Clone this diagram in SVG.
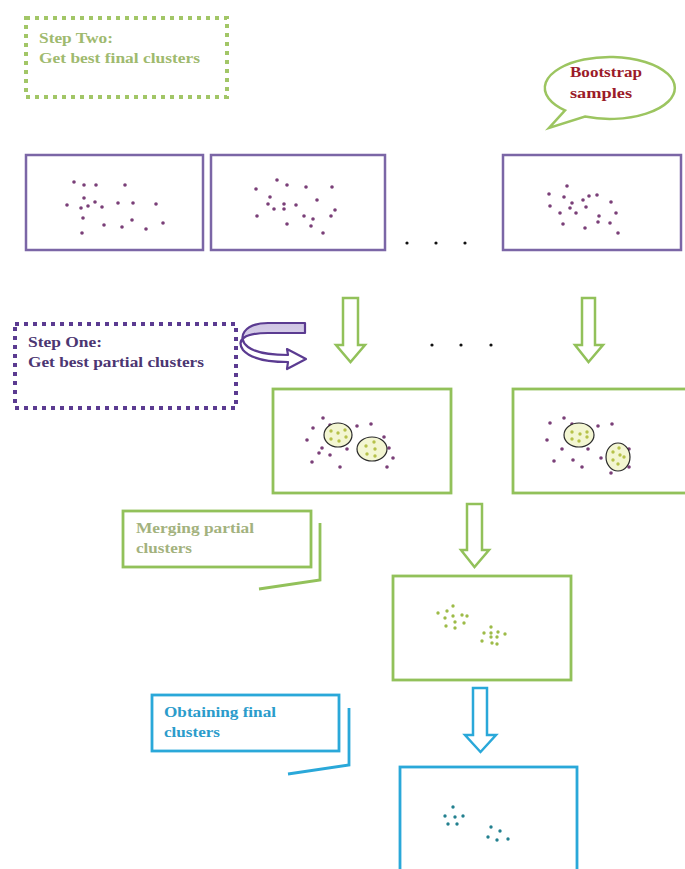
<svg xmlns="http://www.w3.org/2000/svg" width="685" height="869" viewBox="0 0 685 869">
<defs>
<style>
.t{font-family:"Liberation Serif","Times New Roman",serif;font-weight:bold;font-size:14px}
.pbox{fill:#fff;stroke:#7b66a6;stroke-width:2.5}
.gbox{fill:#fff;stroke:#92c15a;stroke-width:2.8}
.bbox{fill:#fff;stroke:#2aa8d9;stroke-width:2.8}
.pp{fill:#7a3f78}
.yp{fill:#b6c24a}
.gp{fill:#9dbb48}
.tp{fill:#23808f}
.ell{fill:#f3f6d2;stroke:#2a2a2a;stroke-width:1.2}
.garrow{fill:#fff;stroke:#92c15a;stroke-width:2.5;stroke-linejoin:miter}
.barrow{fill:#fff;stroke:#2aa8d9;stroke-width:2.5}
.dk{fill:#111}
</style>
<linearGradient id="lav" x1="0" y1="0" x2="0" y2="1">
<stop offset="0" stop-color="#cfc5e3"/>
<stop offset="0.35" stop-color="#d8d0ea"/>
<stop offset="0.45" stop-color="#ffffff"/>
<stop offset="1" stop-color="#ffffff"/>
</linearGradient>
</defs>
<rect width="685" height="869" fill="#fff"/>

<g id="step-two">
<rect x="26" y="18" width="201" height="79" fill="#fff" stroke="#a2c667" stroke-width="4" stroke-dasharray="4 5"/>
<text class="t" x="39" y="43" fill="#9fba6f" font-size="15" textLength="74" lengthAdjust="spacingAndGlyphs">Step Two:</text>
<text class="t" x="39" y="63" fill="#9fba6f" textLength="161" lengthAdjust="spacingAndGlyphs">Get best final clusters</text>
</g>

<g id="bootstrap-callout">
<path d="M565,110.4 L549,128 L585,116.6 A65 31 0 1 0 565,110.4 Z" fill="#fff" stroke="#9cc560" stroke-width="2.5"/>
<text class="t" x="570" y="77" fill="#9b1b2a" font-size="15" textLength="72" lengthAdjust="spacingAndGlyphs">Bootstrap</text>
<text class="t" x="570" y="98" fill="#9b1b2a" font-size="15" textLength="62" lengthAdjust="spacingAndGlyphs">samples</text>
</g>

<g id="sample-1">
<rect class="pbox" x="26" y="155" width="177" height="95"/>
<g class="pp">
<circle cx="74" cy="182" r="1.8"/><circle cx="84" cy="185" r="1.8"/><circle cx="96" cy="185" r="1.8"/><circle cx="125" cy="185" r="1.8"/>
<circle cx="67" cy="205" r="1.8"/><circle cx="84" cy="198" r="1.8"/><circle cx="81" cy="208" r="1.8"/><circle cx="88" cy="206" r="1.8"/>
<circle cx="95" cy="202" r="1.8"/><circle cx="102" cy="207" r="1.8"/><circle cx="118" cy="203" r="1.8"/><circle cx="133" cy="203" r="1.8"/>
<circle cx="156" cy="204" r="1.8"/><circle cx="83" cy="218" r="1.8"/><circle cx="132" cy="220" r="1.8"/><circle cx="163" cy="223" r="1.8"/>
<circle cx="104" cy="225" r="1.8"/><circle cx="122" cy="227" r="1.8"/><circle cx="146" cy="229" r="1.8"/><circle cx="82" cy="233" r="1.8"/>
</g>
</g>

<g id="sample-2">
<rect class="pbox" x="211" y="155" width="174" height="95"/>
<g class="pp">
<circle cx="277" cy="180" r="1.8"/><circle cx="256" cy="189" r="1.8"/><circle cx="287" cy="185" r="1.8"/><circle cx="306" cy="187" r="1.8"/>
<circle cx="332" cy="187" r="1.8"/><circle cx="270" cy="197" r="1.8"/><circle cx="268" cy="204" r="1.8"/><circle cx="284" cy="204" r="1.8"/>
<circle cx="296" cy="205" r="1.8"/><circle cx="317" cy="200" r="1.8"/><circle cx="274" cy="209" r="1.8"/><circle cx="284" cy="209" r="1.8"/>
<circle cx="335" cy="210" r="1.8"/><circle cx="257" cy="216" r="1.8"/><circle cx="304" cy="216" r="1.8"/><circle cx="313" cy="219" r="1.8"/>
<circle cx="331" cy="216" r="1.8"/><circle cx="287" cy="224" r="1.8"/><circle cx="311" cy="226" r="1.8"/><circle cx="323" cy="233" r="1.8"/>
</g>
</g>

<g id="ellipsis-top" class="dk">
<circle cx="407" cy="243" r="1.6"/><circle cx="436" cy="243" r="1.6"/><circle cx="465" cy="243" r="1.6"/>
</g>

<g id="sample-n">
<rect class="pbox" x="503" y="155" width="178" height="95"/>
<g class="pp">
<circle cx="567" cy="186" r="1.8"/><circle cx="549" cy="194" r="1.8"/><circle cx="564" cy="197" r="1.8"/><circle cx="572" cy="203" r="1.8"/>
<circle cx="583" cy="200" r="1.8"/><circle cx="589" cy="196" r="1.8"/><circle cx="597" cy="195" r="1.8"/><circle cx="611" cy="202" r="1.8"/>
<circle cx="550" cy="206" r="1.8"/><circle cx="570" cy="208" r="1.8"/><circle cx="586" cy="207" r="1.8"/><circle cx="560" cy="213" r="1.8"/>
<circle cx="576" cy="213" r="1.8"/><circle cx="616" cy="213" r="1.8"/><circle cx="599" cy="216" r="1.8"/><circle cx="563" cy="224" r="1.8"/>
<circle cx="598" cy="222" r="1.8"/><circle cx="610" cy="223" r="1.8"/><circle cx="585" cy="228" r="1.8"/><circle cx="618" cy="233" r="1.8"/>
</g>
</g>

<g id="step-one">
<rect x="15" y="324" width="221" height="84" fill="#fff" stroke="#5b3b91" stroke-width="4" stroke-dasharray="4 5"/>
<text class="t" x="28" y="347" fill="#4c3672" font-size="15" textLength="74" lengthAdjust="spacingAndGlyphs">Step One:</text>
<text class="t" x="28" y="367" fill="#4c3672" textLength="176" lengthAdjust="spacingAndGlyphs">Get best partial clusters</text>
</g>

<g id="ellipsis-mid" class="dk">
<circle cx="432" cy="345" r="1.6"/><circle cx="461" cy="345" r="1.6"/><circle cx="491" cy="345" r="1.6"/>
</g>

<g id="partial-1">
<rect class="gbox" x="273" y="389" width="178" height="104"/>
<g class="pp">
<circle cx="323" cy="418" r="1.8"/><circle cx="313" cy="428" r="1.8"/><circle cx="307" cy="440" r="1.8"/><circle cx="330" cy="425" r="1.8"/>
<circle cx="357" cy="426" r="1.8"/><circle cx="371" cy="424" r="1.8"/><circle cx="384" cy="437" r="1.8"/><circle cx="322" cy="448" r="1.8"/>
<circle cx="319" cy="453" r="1.8"/><circle cx="330" cy="455" r="1.8"/><circle cx="347" cy="449" r="1.8"/><circle cx="389" cy="448" r="1.8"/>
<circle cx="393" cy="458" r="1.8"/><circle cx="312" cy="462" r="1.8"/><circle cx="340" cy="467" r="1.8"/><circle cx="387" cy="467" r="1.8"/>
</g>
<ellipse class="ell" cx="338" cy="435" rx="14" ry="12"/>
<ellipse class="ell" cx="372" cy="449" rx="15" ry="12"/>
<g class="yp">
<circle cx="331" cy="431" r="1.7"/><circle cx="338" cy="433" r="1.7"/><circle cx="345" cy="430" r="1.7"/><circle cx="331" cy="439" r="1.7"/><circle cx="339" cy="441" r="1.7"/><circle cx="346" cy="437" r="1.7"/>
<circle cx="366" cy="446" r="1.7"/><circle cx="374" cy="442" r="1.7"/><circle cx="375" cy="449" r="1.7"/><circle cx="367" cy="454" r="1.7"/><circle cx="375" cy="456" r="1.7"/>
</g>
</g>

<g id="partial-n">
<rect class="gbox" x="513" y="389" width="175" height="104"/>
<g class="pp">
<circle cx="550" cy="423" r="1.8"/><circle cx="564" cy="418" r="1.8"/><circle cx="572" cy="424" r="1.8"/><circle cx="598" cy="426" r="1.8"/>
<circle cx="612" cy="424" r="1.8"/><circle cx="547" cy="440" r="1.8"/><circle cx="562" cy="449" r="1.8"/><circle cx="588" cy="449" r="1.8"/>
<circle cx="554" cy="461" r="1.8"/><circle cx="573" cy="460" r="1.8"/><circle cx="582" cy="467" r="1.8"/><circle cx="601" cy="458" r="1.8"/>
<circle cx="629" cy="449" r="1.8"/><circle cx="629" cy="467" r="1.8"/><circle cx="611" cy="473" r="1.8"/>
</g>
<ellipse class="ell" cx="579" cy="435" rx="15" ry="12"/>
<ellipse class="ell" cx="618" cy="457" rx="12" ry="14"/>
<g class="yp">
<circle cx="572" cy="432" r="1.7"/><circle cx="580" cy="434" r="1.7"/><circle cx="587" cy="432" r="1.7"/><circle cx="572" cy="439" r="1.7"/><circle cx="579" cy="441" r="1.7"/><circle cx="587" cy="437" r="1.7"/>
<circle cx="613" cy="452" r="1.7"/><circle cx="619" cy="448" r="1.7"/><circle cx="620" cy="455" r="1.7"/><circle cx="624" cy="457" r="1.7"/><circle cx="613" cy="460" r="1.7"/><circle cx="618" cy="464" r="1.7"/>
</g>
</g>

<g id="merging-callout">
<rect x="123" y="511" width="188" height="56" fill="#fff" stroke="#92c15a" stroke-width="2.8"/>
<polyline points="320,523 320,580 259,589" fill="none" stroke="#92c15a" stroke-width="2.8"/>
<text class="t" x="136" y="533" fill="#a3b27e" font-weight="normal" font-size="15" textLength="118" lengthAdjust="spacingAndGlyphs">Merging partial</text>
<text class="t" x="136" y="553" fill="#a3b27e" font-weight="normal" font-size="15" textLength="56" lengthAdjust="spacingAndGlyphs">clusters</text>
</g>

<g id="merged">
<rect class="gbox" x="393" y="576" width="178" height="104"/>
<g class="gp">
<circle cx="453" cy="606" r="1.7"/><circle cx="438" cy="613" r="1.7"/><circle cx="447" cy="611" r="1.7"/><circle cx="453" cy="616" r="1.7"/>
<circle cx="462" cy="615" r="1.7"/><circle cx="467" cy="616" r="1.7"/><circle cx="445" cy="618" r="1.7"/><circle cx="455" cy="622" r="1.7"/>
<circle cx="464" cy="623" r="1.7"/><circle cx="446" cy="626" r="1.7"/><circle cx="455" cy="628" r="1.7"/>
<circle cx="491" cy="627" r="1.7"/><circle cx="484" cy="633" r="1.7"/><circle cx="491" cy="633" r="1.7"/><circle cx="498" cy="632" r="1.7"/>
<circle cx="505" cy="634" r="1.7"/><circle cx="491" cy="637" r="1.7"/><circle cx="497" cy="637" r="1.7"/><circle cx="482" cy="641" r="1.7"/>
<circle cx="492" cy="643" r="1.7"/><circle cx="497" cy="644" r="1.7"/>
</g>
</g>

<g id="obtaining-callout">
<rect x="152" y="695" width="187" height="56" fill="#fff" stroke="#2aa8d9" stroke-width="2.8"/>
<polyline points="349,708 349,765 288,774" fill="none" stroke="#2aa8d9" stroke-width="2.8"/>
<text class="t" x="164" y="717" fill="#2b9ccb" font-size="15" textLength="112" lengthAdjust="spacingAndGlyphs">Obtaining final</text>
<text class="t" x="164" y="737" fill="#2b9ccb" font-size="15" textLength="56" lengthAdjust="spacingAndGlyphs">clusters</text>
</g>

<g id="final">
<rect class="bbox" x="400" y="767" width="177" height="110"/>
<g class="tp">
<circle cx="453" cy="807" r="1.7"/><circle cx="445" cy="816" r="1.7"/><circle cx="455" cy="817" r="1.7"/><circle cx="463" cy="816" r="1.7"/>
<circle cx="448" cy="824" r="1.7"/><circle cx="457" cy="824" r="1.7"/>
<circle cx="491" cy="827" r="1.7"/><circle cx="500" cy="831" r="1.7"/><circle cx="488" cy="837" r="1.7"/><circle cx="497" cy="840" r="1.7"/><circle cx="508" cy="839" r="1.7"/>
</g>
</g>

<g id="connectors">
<path d="M305,323 L268,323 C244,323 236,338 248,347 C256,353 270,355 288,355 L287,349 L306,359 L287,369 L288,362 C266,362 250,358 243,350 C236,340 244,333 268,333 L305,333 Z" fill="url(#lav)" stroke="#5b3b91" stroke-width="2.2" stroke-linejoin="round"/>
<polygon class="garrow" points="343,298 358,298 358,345 365,345 350.5,362 336,345 343,345"/>
<polygon class="garrow" points="582,298 595,298 595,345 603,345 588.5,362 575,345 582,345"/>
<polygon class="garrow" points="467,504 482,504 482,550 489,550 474.5,567 461,550 467,550"/>
<polygon class="barrow" points="473,688 487,688 487,735 496,735 480.5,752 465,735 473,735"/>
</g>
</svg>
